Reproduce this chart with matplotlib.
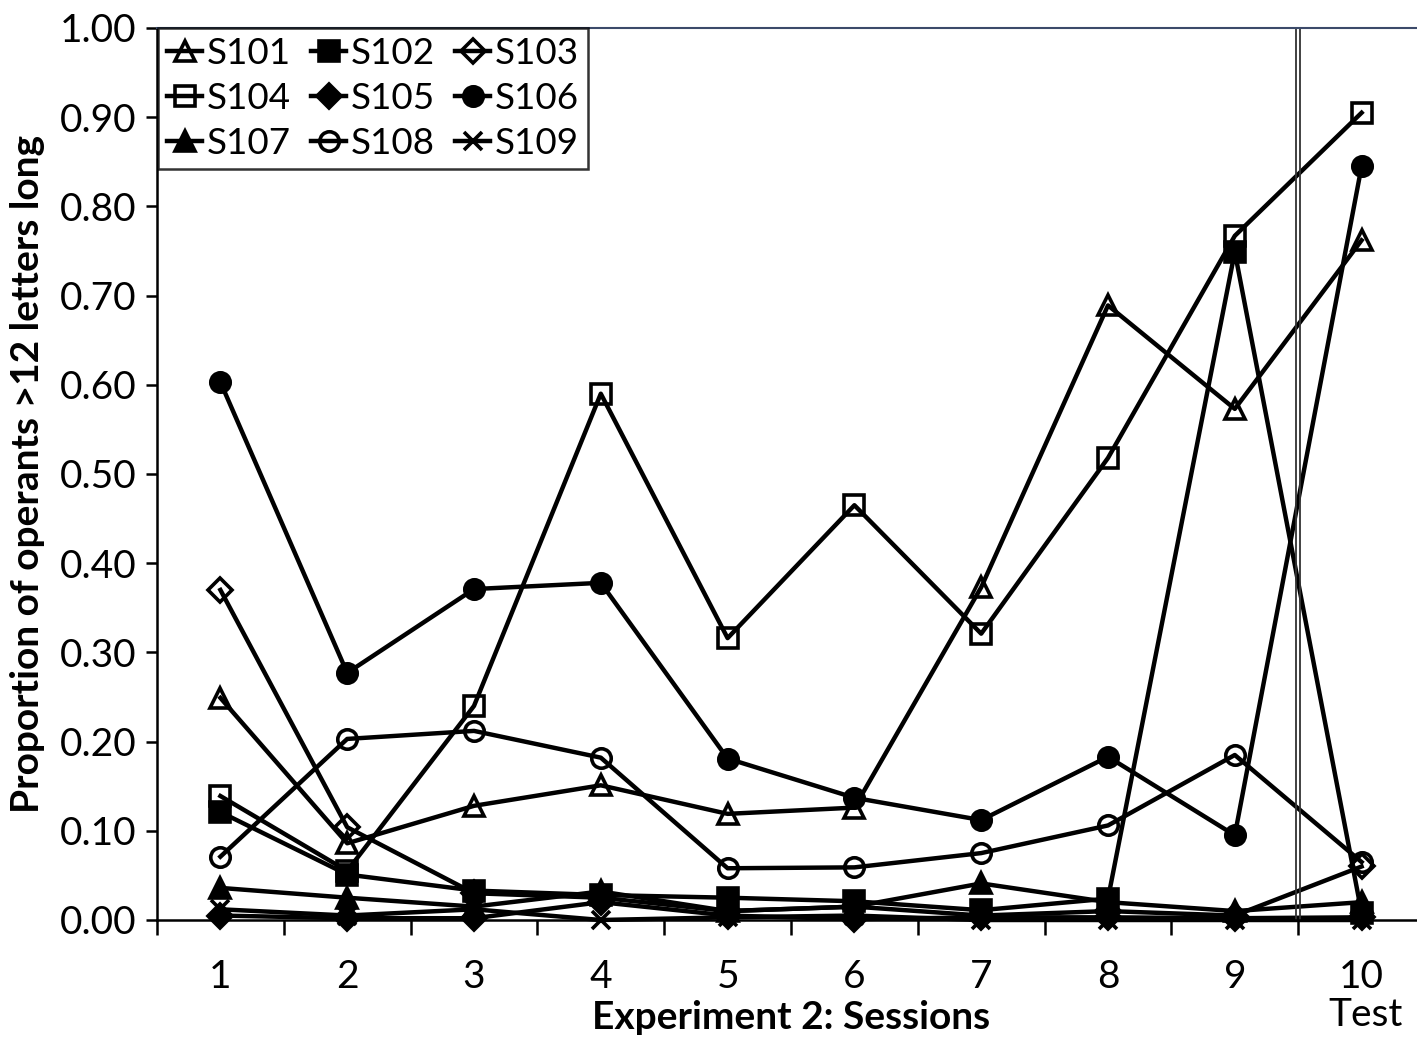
import numpy as np
import matplotlib
matplotlib.use("Agg")
import matplotlib.pyplot as plt

plt.rcParams['font.family'] = ['Lato', 'DejaVu Sans']

sessions = [1, 2, 3, 4, 5, 6, 7, 8, 9, 10]
session_labels = ["1", "2", "3", "4", "5", "6", "7", "8", "9", "10"]

s101 = [0.249, 0.086, 0.128, 0.151, 0.119, 0.126, 0.373, 0.689, 0.573, 0.762]
s102 = [0.121, 0.051, 0.033, 0.028, 0.025, 0.021, 0.011, 0.024, 0.749, 0.008]
s103 = [0.370, 0.104, 0.030, 0.025, 0.010, 0.015, 0.005, 0.010, 0.005, 0.060]
s104 = [0.139, 0.055, 0.240, 0.590, 0.316, 0.465, 0.321, 0.518, 0.767, 0.905]
s105 = [0.005, 0.002, 0.002, 0.020, 0.005, 0.001, 0.003, 0.003, 0.002, 0.003]
s106 = [0.603, 0.277, 0.371, 0.378, 0.181, 0.137, 0.112, 0.183, 0.095, 0.845]
s107 = [0.036, 0.025, 0.015, 0.032, 0.010, 0.015, 0.041, 0.020, 0.010, 0.020]
s108 = [0.071, 0.203, 0.212, 0.182, 0.058, 0.059, 0.075, 0.106, 0.185, 0.065]
s109 = [0.012, 0.005, 0.012, 0.000, 0.003, 0.005, 0.000, 0.000, 0.000, 0.000]

# name, values, marker, filled
series = [
    ("S101", s101, "^", False),
    ("S102", s102, "s", True),
    ("S103", s103, "D", False),
    ("S104", s104, "s", False),
    ("S105", s105, "D", True),
    ("S106", s106, "o", True),
    ("S107", s107, "^", True),
    ("S108", s108, "o", False),
    ("S109", s109, "x", True),
]


def main():
    fig = plt.figure(figsize=(14.17, 10.39), dpi=100)
    ax = fig.add_axes([157 / 1417, 119 / 1039, 1268 / 1417, 892 / 1039])

    handles = {}
    for name, vals, mk, filled in series:
        ms = 12 if mk == "D" else 14
        if mk == "x":
            ms = 13
        line, = ax.plot(sessions, vals, color="black", lw=3.2, marker=mk,
                        markersize=ms, markeredgewidth=2.6,
                        markerfacecolor="black" if filled else "none",
                        markeredgecolor="black", label=name, clip_on=False)
        handles[name] = line

    # separator before the test session
    ax.axvline(9.5 - 0.018, color="#333333", lw=1.3)
    ax.axvline(9.5 + 0.018, color="#333333", lw=1.3)

    ax.set_xlim(0.5, 10.5)
    ax.set_ylim(0, 1.0)
    ax.set_yticks(np.arange(0, 1.01, 0.1))
    ax.set_yticklabels(["%.2f" % v for v in np.arange(0, 1.01, 0.1)], fontsize=28)

    ax.set_xticks(np.arange(0.5, 10.6, 1.0))
    ax.set_xticklabels([])
    ax.set_xticks(sessions, minor=True)
    ax.set_xticklabels(session_labels, minor=True, fontsize=28)
    ax.tick_params(axis="x", which="major", direction="out", length=11, width=1.8)
    ax.tick_params(axis="x", which="minor", length=0, pad=28)
    ax.tick_params(axis="y", direction="out", length=8, width=1.8, pad=7)

    for side in ["left", "bottom"]:
        ax.spines[side].set_linewidth(1.8)
        ax.spines[side].set_color("black")
    ax.spines["top"].set_color("#3c4a6a")
    ax.spines["top"].set_linewidth(1.5)
    ax.spines["right"].set_visible(False)

    ax.set_ylabel("Proportion of operants >12 letters long", fontsize=28, fontweight="bold")
    ax.yaxis.set_label_coords(-0.088, 0.5)
    ax.set_xlabel("Experiment 2: Sessions", fontsize=28, fontweight="bold")
    ax.xaxis.set_label_coords(0.5, -0.09)

    ax.text(10.03, -0.106, "Test", transform=ax.get_xaxis_transform(),
            ha="center", va="center", fontsize=28)

    # legend filled by rows, so reorder for column-wise layout
    order = ["S101", "S104", "S107", "S102", "S105", "S108", "S103", "S106", "S109"]
    leg = ax.legend([handles[n] for n in order], order, loc="upper left", ncol=3,
                    fontsize=26.5, frameon=True, fancybox=False, borderaxespad=0,
                    handlelength=0.95, handletextpad=0.12, columnspacing=0.55,
                    labelspacing=0.32, borderpad=0.25, bbox_to_anchor=(0.001, 1.0))
    leg.get_frame().set_edgecolor("black")
    leg.get_frame().set_linewidth(1.8)

    fig.savefig("out.png", dpi=100)
    plt.close(fig)


if __name__ == "__main__":
    main()
